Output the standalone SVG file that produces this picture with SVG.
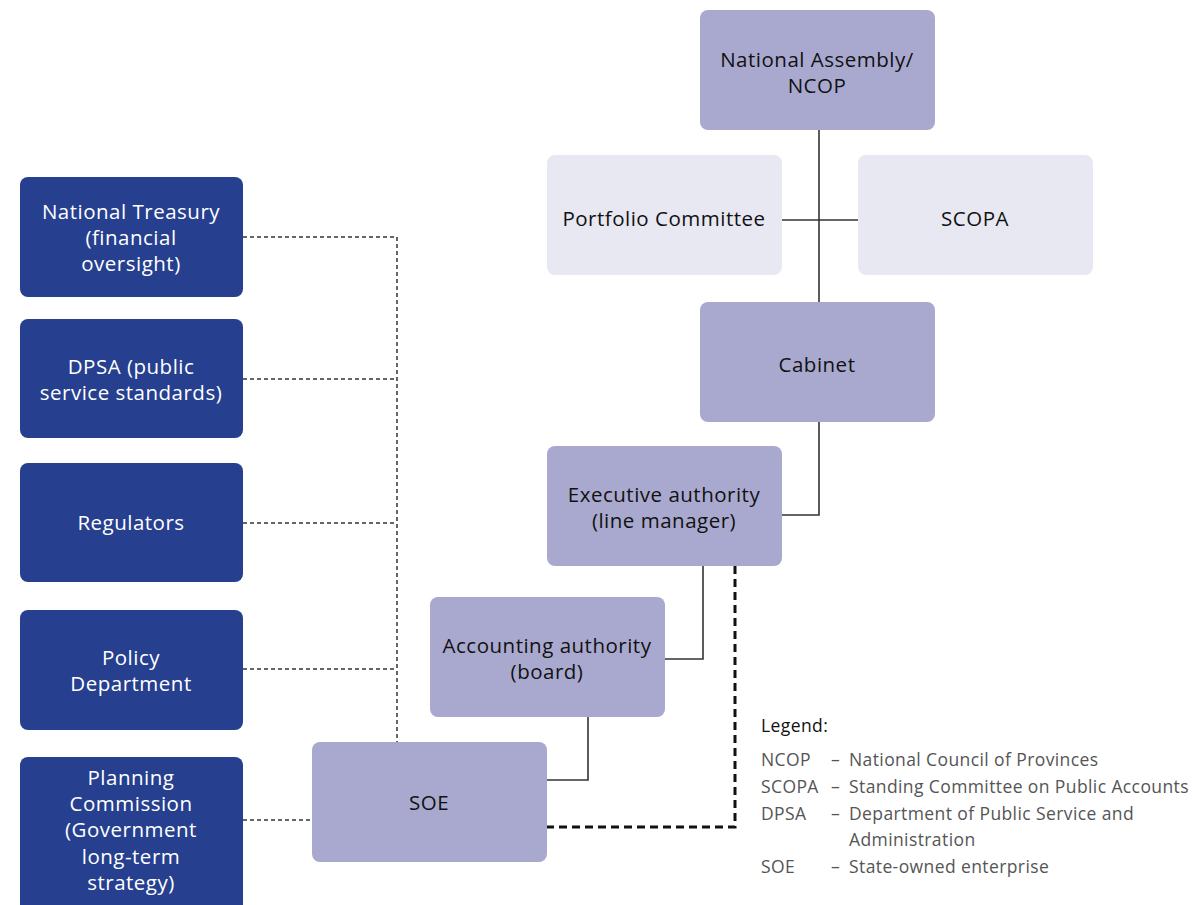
<svg xmlns="http://www.w3.org/2000/svg" width="1195" height="905" viewBox="0 0 1195 905">
<style>
.n{fill:#a9a9cf}
.l{fill:#e8e8f3}
.d{fill:#26408f}
.t{font-family:"Open Sans",Lato,sans-serif;font-size:20.5px;letter-spacing:0.5px;fill:#111;text-anchor:middle}
.w{fill:#fff}
.c{fill:none;stroke:#333;stroke-width:1.6}
.dt{fill:none;stroke:#333;stroke-width:1.5;stroke-dasharray:4 3}
.dk{fill:none;stroke:#111;stroke-width:3;stroke-dasharray:8 5}
.lg{font-family:"Open Sans",Lato,sans-serif;font-size:17.5px;letter-spacing:0.4px;fill:#555}
</style>
<rect width="1195" height="905" fill="#fff"/>
<g id="connectors">
<path class="c" d="M819 130V302M782 220H858"/>
<path class="c" d="M819 422V515H782"/>
<path class="c" d="M703 566V659H665"/>
<path class="c" d="M588 717V780H547"/>
<path class="dk" d="M735 566V827H547"/>
<path class="dt" d="M243 237H397V742M243 379H397M243 523H397M243 669H397M243 820H312"/>
</g>
<g id="national-assembly"><rect class="n" x="700" y="10" width="235" height="120" rx="8"/><text class="t" x="817" y="67">National Assembly/</text><text class="t" x="817" y="93">NCOP</text></g>
<g id="portfolio-committee"><rect class="l" x="547" y="155" width="235" height="120" rx="8"/><text class="t" x="664" y="226">Portfolio Committee</text></g>
<g id="scopa"><rect class="l" x="858" y="155" width="235" height="120" rx="8"/><text class="t" x="975" y="226">SCOPA</text></g>
<g id="cabinet"><rect class="n" x="700" y="302" width="235" height="120" rx="8"/><text class="t" x="817" y="372">Cabinet</text></g>
<g id="executive-authority"><rect class="n" x="547" y="446" width="235" height="120" rx="8"/><text class="t" x="664" y="502">Executive authority</text><text class="t" x="664" y="528">(line manager)</text></g>
<g id="accounting-authority"><rect class="n" x="430" y="597" width="235" height="120" rx="8"/><text class="t" x="547" y="653">Accounting authority</text><text class="t" x="547" y="679">(board)</text></g>
<g id="soe"><rect class="n" x="312" y="742" width="235" height="120" rx="8"/><text class="t" x="429" y="810">SOE</text></g>
<g id="national-treasury"><rect class="d" x="20" y="177" width="223" height="120" rx="8"/><text class="t w" x="131" y="219">National Treasury</text><text class="t w" x="131" y="245">(financial</text><text class="t w" x="131" y="271">oversight)</text></g>
<g id="dpsa"><rect class="d" x="20" y="319" width="223" height="119" rx="8"/><text class="t w" x="131" y="374">DPSA (public</text><text class="t w" x="131" y="400">service standards)</text></g>
<g id="regulators"><rect class="d" x="20" y="463" width="223" height="119" rx="8"/><text class="t w" x="131" y="530">Regulators</text></g>
<g id="policy-department"><rect class="d" x="20" y="610" width="223" height="120" rx="8"/><text class="t w" x="131" y="665">Policy</text><text class="t w" x="131" y="691">Department</text></g>
<g id="planning-commission"><rect class="d" x="20" y="757" width="223" height="158" rx="8"/><text class="t w" x="131" y="785">Planning</text><text class="t w" x="131" y="811">Commission</text><text class="t w" x="131" y="837">(Government</text><text class="t w" x="131" y="864">long-term</text><text class="t w" x="131" y="890">strategy)</text></g>
<g id="legend">
<text class="lg" x="761" y="732" style="fill:#111">Legend:</text>
<text class="lg" x="761" y="766">NCOP</text><text class="lg" x="831" y="766">–</text><text class="lg" x="849" y="766">National Council of Provinces</text>
<text class="lg" x="761" y="793">SCOPA</text><text class="lg" x="831" y="793">–</text><text class="lg" x="849" y="793">Standing Committee on Public Accounts</text>
<text class="lg" x="761" y="820">DPSA</text><text class="lg" x="831" y="820">–</text><text class="lg" x="849" y="820">Department of Public Service and</text>
<text class="lg" x="849" y="846">Administration</text>
<text class="lg" x="761" y="873">SOE</text><text class="lg" x="831" y="873">–</text><text class="lg" x="849" y="873">State-owned enterprise</text>
</g>
</svg>
